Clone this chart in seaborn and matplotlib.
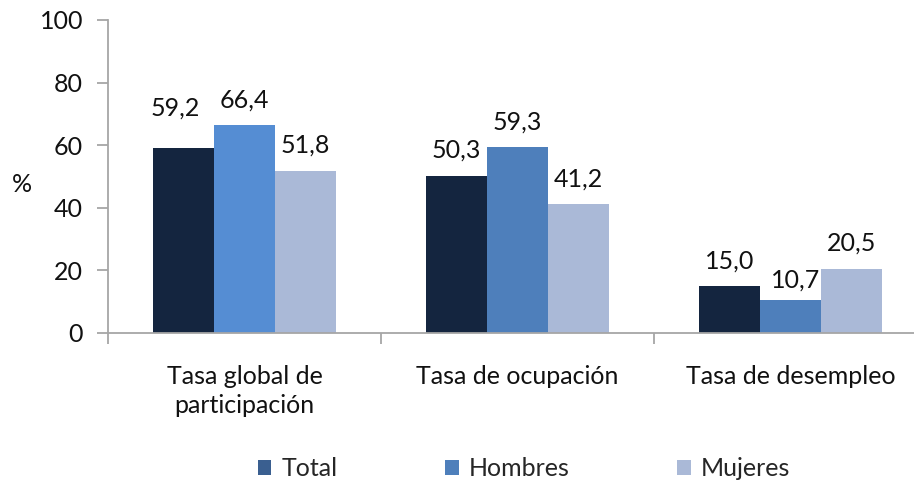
import pandas as pd
import seaborn as sns
import matplotlib.pyplot as plt
from matplotlib.patches import Patch

# datos del gráfico
categorias = ["Tasa global de\nparticipación", "Tasa de ocupación", "Tasa de desempleo"]
series = ["Total", "Hombres", "Mujeres"]
total = [59.2, 50.3, 15.0]
hombres = [66.4, 59.3, 10.7]
mujeres = [51.8, 41.2, 20.5]

colores = {"Total": "#14253F", "Hombres": "#4E7FBB", "Mujeres": "#AAB9D7"}
color_hombres_1 = "#558DD3"
colores_leyenda = {"Total": "#3A5F90", "Hombres": "#4E7FBB", "Mujeres": "#AAB9D7"}

df = pd.DataFrame({
    "categoria": categorias * 3,
    "serie": [s for s in series for _ in categorias],
    "valor": total + hombres + mujeres,
})

sns.set_theme(style="white")
plt.rcParams["font.family"] = ["Lato", "DejaVu Sans"]
FS = 18

fig = plt.figure(figsize=(9.14, 4.83), dpi=100)
ax = fig.add_axes([108 / 914, 150 / 483, 819 / 914, 313 / 483])

sns.barplot(data=df, x="categoria", y="valor", hue="serie", hue_order=series,
            order=categorias, palette=colores, width=0.67, gap=0,
            linewidth=0, saturation=1, legend=False, ax=ax)

# el primer bar de Hombres es algo más claro en el original
ax.containers[1][0].set_facecolor(color_hombres_1)

pad = 10
for cont in ax.containers:
    vals = [b.get_height() for b in cont]
    ax.bar_label(cont, labels=[f"{v:.1f}".replace(".", ",") for v in vals],
                 padding=pad, fontsize=FS, color="#111111")
# pequeños desplazamientos de etiquetas como en el original (59,2 y 10,7)
ax.texts[0].xyann = (-6, pad + 10)
ax.texts[5].xyann = (4, pad - 4)

ax.set_ylim(0, 100)
ax.set_xlim(-0.5, 2.5)
ax.set_yticks(range(0, 101, 20))
ax.set_xlabel("")
ax.set_ylabel("")

sns.despine(ax=ax)
for side in ["left", "bottom"]:
    ax.spines[side].set_color("#A6A6A6")
    ax.spines[side].set_linewidth(1.3)

ax.tick_params(axis="y", which="major", left=True, length=8, width=1.3,
               color="#A6A6A6", pad=10, labelsize=FS, labelcolor="#111111")
ax.tick_params(axis="x", which="major", bottom=False, pad=17,
               labelsize=FS, labelcolor="#111111")
ax.set_xticks([-0.5, 0.5, 1.5, 2.5], minor=True)
ax.tick_params(axis="x", which="minor", bottom=True, length=8, width=1.3,
               color="#A6A6A6")
for lab in ax.get_xticklabels():
    lab.set_linespacing(1.3)
    lab.set_va("top")

fig.text(22 / 914, 1 - 185 / 483, "%", fontsize=FS, ha="center", va="center",
         color="#111111")

handles = [Patch(facecolor=colores_leyenda[s], edgecolor="none") for s in series]
fig.legend(handles, series, loc="center", bbox_to_anchor=(524 / 914, 1 - 469 / 483),
           ncol=3, frameon=False, fontsize=FS, handlelength=0.55, handleheight=0.55,
           handletextpad=0.4, columnspacing=4.3, borderpad=0)

fig.savefig("out.png", dpi=100)
